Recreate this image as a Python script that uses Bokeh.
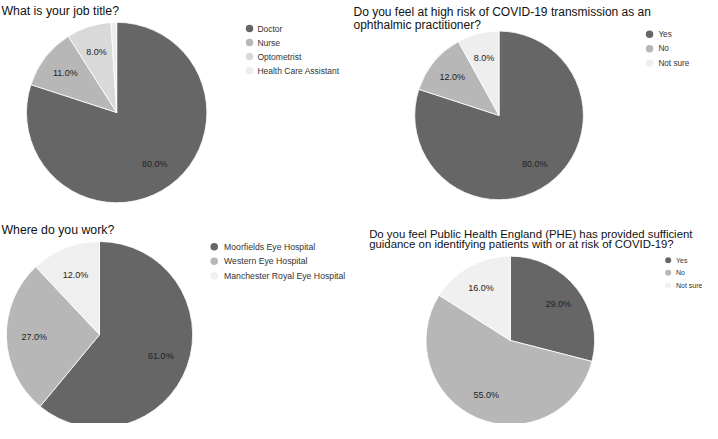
import math
from bokeh.plotting import figure
from bokeh.models import Range1d, ColumnDataSource
from bokeh.core.properties import value
from bokeh.embed import file_html
from bokeh.resources import INLINE

# ---- data ----
job_titles = ["Doctor", "Nurse", "Optometrist", "Health Care Assistant"]
job_values = [80, 11, 8, 1]
job_colors = ["#666666", "#b7b7b7", "#d9d9d9", "#ececec"]

risk_labels = ["Yes", "No", "Not sure"]
risk_values = [80, 12, 8]
risk_colors = ["#666666", "#b7b7b7", "#eeeeee"]

work_labels = ["Moorfields Eye Hospital", "Western Eye Hospital", "Manchester Royal Eye Hospital"]
work_values = [61, 27, 12]
work_colors = ["#666666", "#b7b7b7", "#efefef"]

phe_labels = ["Yes", "No", "Not sure"]
phe_values = [29, 55, 16]
phe_colors = ["#666666", "#b7b7b7", "#f0f0f0"]

FONT = value("Liberation Sans")

p = figure(width=702, height=423, output_backend="svg", toolbar_location=None,
           x_range=Range1d(1, 717), y_range=Range1d(440, 2),
           min_border=0, outline_line_color=None)
p.axis.visible = False
p.grid.visible = False
p.background_fill_color = "white"


def pie(cx, cy, r, labels, vals, colors, title_lines, title_x, title_y, title_size,
        title_gap, leg_x, leg_tx, leg_y, leg_dy, leg_size, marker_size,
        label_frac=0.72):
    total = float(sum(vals))
    # clockwise from 12 o'clock (angles are in screen space)
    starts, ends = [], []
    acc = 0.0
    for v in vals:
        a0 = acc / total * 2 * math.pi
        acc += v
        a1 = acc / total * 2 * math.pi
        starts.append(math.pi / 2 - a0)
        ends.append(math.pi / 2 - a1)
    src = ColumnDataSource(dict(x=[cx] * len(vals), y=[cy] * len(vals),
                                start=starts, end=ends, color=colors))
    p.wedge(x="x", y="y", radius=r, start_angle="start", end_angle="end",
            direction="clock", fill_color="color", line_color="white",
            line_width=0.8, source=src)
    # percentage labels
    lx, ly, lt = [], [], []
    acc = 0.0
    for v in vals:
        mid = (acc + v / 2) / total * 2 * math.pi
        acc += v
        if v / total < 0.05:
            continue
        lx.append(cx + label_frac * r * math.sin(mid))
        ly.append(cy - label_frac * r * math.cos(mid))
        lt.append("%.1f%%" % v)
    p.text(x=lx, y=ly, text=lt, text_font=FONT, text_font_size="9px",
           text_color="#222222", text_align="center", text_baseline="middle")
    # title
    for i, line in enumerate(title_lines):
        p.text(x=[title_x], y=[title_y + i * title_gap], text=[line],
               text_font=FONT, text_font_size="%spx" % title_size,
               text_color="#111111", text_align="left", text_baseline="middle")
    # legend
    ys = [leg_y + i * leg_dy for i in range(len(labels))]
    p.scatter(x=[leg_x] * len(labels), y=ys, size=marker_size, marker="circle",
              fill_color=colors, line_color=None)
    p.text(x=[leg_tx] * len(labels), y=ys, text=labels,
           text_font=FONT, text_font_size="%spx" % leg_size, text_color="#333333",
           text_align="left", text_baseline="middle")


pie(119.5, 118, 92, job_titles, job_values, job_colors,
    ["What is your job title?"], 2, 13, 12.3, 13,
    255, 263, 31, 14.5, 8.5, 7.5)
pie(509.5, 121, 86, risk_labels, risk_values, risk_colors,
    ["Do you feel at high risk of COVID-19 transmission as an",
     "ophthalmic practitioner?"], 361, 14, 12, 13,
    663, 672, 37, 15, 8.2, 7.5)
pie(102, 348, 95, work_labels, work_values, work_colors,
    ["Where do you work?"], 2, 240, 12.3, 13,
    219, 229, 257, 15, 8.7, 7.5, label_frac=0.7)
pie(521, 354, 86, phe_labels, phe_values, phe_colors,
    ["Do you feel Public Health England (PHE) has provided sufficient",
     "guidance on identifying patients with or at risk of COVID-19?"],
    377, 244, 11.4, 10.5,
    682, 690, 271, 13, 7, 6)

open("out.html", "w").write(file_html(p, INLINE))
